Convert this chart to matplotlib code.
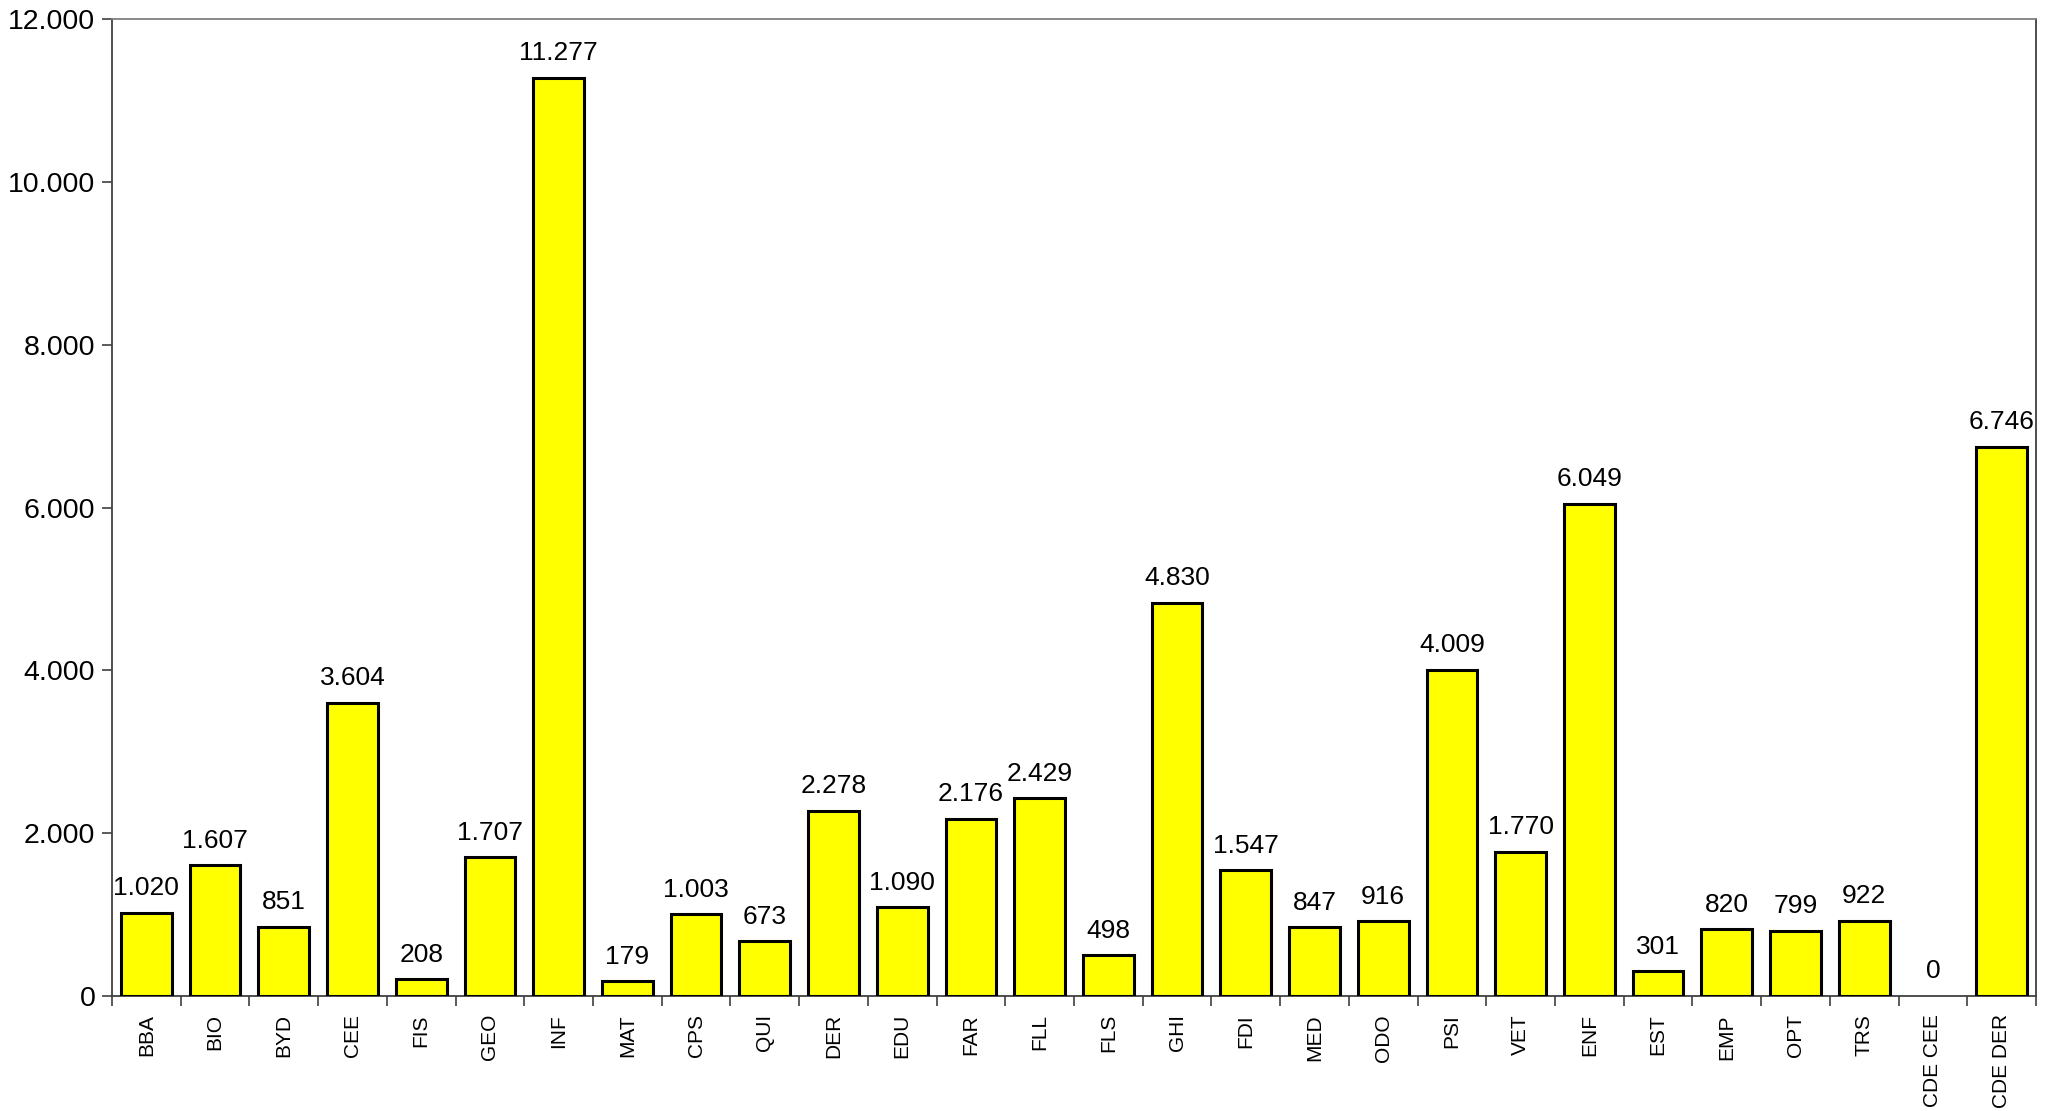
import matplotlib
matplotlib.use("Agg")
import matplotlib.pyplot as plt
from matplotlib.ticker import FuncFormatter, FixedLocator
import numpy as np

categories = ["BBA", "BIO", "BYD", "CEE", "FIS", "GEO", "INF", "MAT", "CPS", "QUI",
              "DER", "EDU", "FAR", "FLL", "FLS", "GHI", "FDI", "MED", "ODO", "PSI",
              "VET", "ENF", "EST", "EMP", "OPT", "TRS", "CDE CEE", "CDE DER"]
values = [1020, 1607, 851, 3604, 208, 1707, 11277, 179, 1003, 673,
          2278, 1090, 2176, 2429, 498, 4830, 1547, 847, 916, 4009,
          1770, 6049, 301, 820, 799, 922, 0, 6746]
yticks = [0, 2000, 4000, 6000, 8000, 10000, 12000]

def fmt(v):
    return f"{int(v):,}".replace(",", ".")

plt.rcParams['font.family'] = ['Liberation Sans', 'DejaVu Sans']

fig = plt.figure(figsize=(20.58, 11.11), dpi=100)
ax = fig.add_axes([112/2058, 1-996/1111, (2036-112)/2058, (996-19)/1111])

x = np.arange(len(categories))
edge = ["black" if v > 0 else "none" for v in values]
bars = ax.bar(x, values, width=0.74, color="#FFFF00", edgecolor=edge, linewidth=2.2, zorder=3)

for xi, v in zip(x, values):
    ax.annotate(fmt(v), (xi, v), xytext=(0, 9), textcoords="offset points",
                ha="center", va="bottom", fontsize=19)

ax.set_xlim(-0.5, len(categories) - 0.5)
ax.set_ylim(0, 12000)
ax.set_yticks(yticks)
ax.yaxis.set_major_formatter(FuncFormatter(lambda v, p: fmt(v)))
ax.tick_params(axis="y", labelsize=20.5, length=7, width=1.2, color="#404040", direction="out", pad=5)

ax.set_xticks(x)
ax.set_xticklabels(categories, rotation=90, fontsize=15,
                   family=['Liberation Sans Narrow', 'Liberation Sans', 'DejaVu Sans'])
ax.tick_params(axis="x", length=0, pad=13)
ax.xaxis.set_minor_locator(FixedLocator(np.arange(-0.5, len(categories), 1.0)))
ax.tick_params(axis="x", which="minor", length=7, width=1.2, color="#404040", direction="out")

for s in ax.spines.values():
    s.set_color("#404040")
    s.set_linewidth(1.3)
ax.spines["top"].set_color("#808080")

fig.savefig("out.png", dpi=100, facecolor="white")
